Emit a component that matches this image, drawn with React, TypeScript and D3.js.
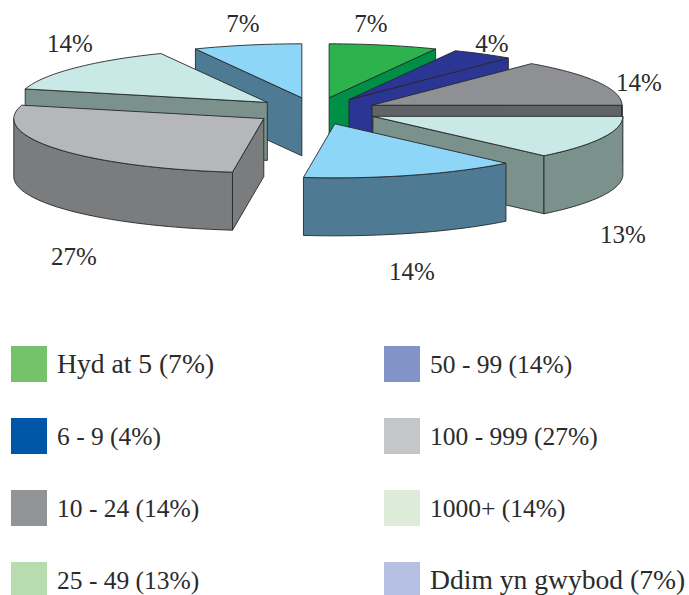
import React from "react";
import * as d3 from "d3";

const categories = ["Hyd at 5", "6 - 9", "10 - 24", "25 - 49", "50 - 99", "100 - 999", "1000+", "Ddim yn gwybod"];
const shares = [7, 4, 14, 13, 14, 27, 14, 7];
const legendSwatches = ["#74c36b", "#0056a6", "#929396", "#b9dcae", "#8293c8", "#c5c6c8", "#dcecd8", "#b6c0e2"];
const topFaces = ["#2db34d", "#2b3593", "#8f9094", "#c9e9e6", "#8ed6f8", "#b6b7ba", "#c9e9e6", "#8ed6f8"];
const sideFaces = ["#008f47", "#2b3593", "#626366", "#7b918b", "#4e7b93", "#7b7c7e", "#7b918b", "#4e7b93"];
const paintOrder = [7, 6, 5, 0, 1, 2, 3, 4];
// label anchor, in page pixels
const labelX = [371, 492, 639, 623, 412, 74, 70, 243];
const labelY = [32, 52, 91, 243, 280, 265, 52, 32];

const W = 689, H = 595;
const CX = 315.5, CY = 111, RX = 250, RY = 54, DEPTH = 58, EXPLODE = 0.25;
const INK = "#26282a";
const FONT = "'Liberation Serif', serif";

const arcs = d3.pie<number>().sort(null).startAngle(0).endAngle(2 * Math.PI)(shares);
const line = d3.line<[number, number]>();

const ell = (a: number, r = 1): [number, number] => [RX * r * Math.sin(a), -RY * r * Math.cos(a)];
const down = (p: [number, number]): [number, number] => [p[0], p[1] + DEPTH];

function arcPts(apex: [number, number], a0: number, a1: number): [number, number][] {
  const n = Math.max(2, Math.ceil((a1 - a0) / 0.03));
  return d3.range(n + 1).map((i) => {
    const e = ell(a0 + ((a1 - a0) * i) / n);
    return [apex[0] + e[0], apex[1] + e[1]] as [number, number];
  });
}

function Slice({ i }: { i: number }) {
  const { startAngle: a0, endAngle: a1 } = arcs[i];
  const mid = (a0 + a1) / 2;
  const off = ell(mid, EXPLODE);
  const apex: [number, number] = [CX + off[0], CY + off[1]];
  const rim = arcPts(apex, a0, a1);
  const first = rim[0], last = rim[rim.length - 1];
  const side = sideFaces[i];
  const faces: [number, number][][] = [];
  // radial cut faces: visible when their outward normal turns to the viewer
  if (Math.cos(a0 - Math.PI / 2) < -0.001) faces.push([apex, first, down(first), down(apex)]);
  if (Math.cos(a1 + Math.PI / 2) < -0.001) faces.push([apex, last, down(last), down(apex)]);
  // outer wall: front half of the rim only
  const w0 = Math.max(a0, Math.PI / 2), w1 = Math.min(a1, 1.5 * Math.PI);
  if (w1 > w0) {
    const wall = arcPts(apex, w0, w1);
    faces.push([...wall, ...wall.slice().reverse().map(down)]);
  }
  return (
    <g>
      {faces.map((f, k) => (
        <path key={k} d={line(f) + "Z"} fill={side} stroke={INK} strokeWidth={0.9} strokeLinejoin="round" />
      ))}
      <path d={line([apex, ...rim]) + "Z"} fill={topFaces[i]} stroke={INK} strokeWidth={0.9} strokeLinejoin="round" />
    </g>
  );
}

const legendRow = d3.scalePoint<number>().domain([0, 1, 2, 3]).range([346, 562]);
const legendCol = (i: number) => (i < 4 ? 11 : 384);
const hasWords = (c: string) => /[a-z]/i.test(c);

export default function App() {
  return (
    <svg width={W} height={H} viewBox={`0 0 ${W} ${H}`} style={{ position: "fixed", left: 0, top: 0, background: "#fff" }}>
      {paintOrder.map((i) => <Slice key={i} i={i} />)}
      {shares.map((v, i) => (
        <text key={i} x={labelX[i]} y={labelY[i]} textAnchor="middle" fontFamily={FONT} fontSize={25} fill="#2b2b2b">{v}%</text>
      ))}
      {categories.map((c, i) => {
        const y = legendRow(i % 4)!;
        const x = legendCol(i);
        return (
          <g key={c}>
            <rect x={x} y={y} width={36} height={36} fill={legendSwatches[i]} />
            <text x={x + 46} y={y + 27} fontFamily={FONT} fontSize={hasWords(c) ? 27.6 : 25.5} fill="#2b2b2b">{`${c} (${shares[i]}%)`}</text>
          </g>
        );
      })}
    </svg>
  );
}
